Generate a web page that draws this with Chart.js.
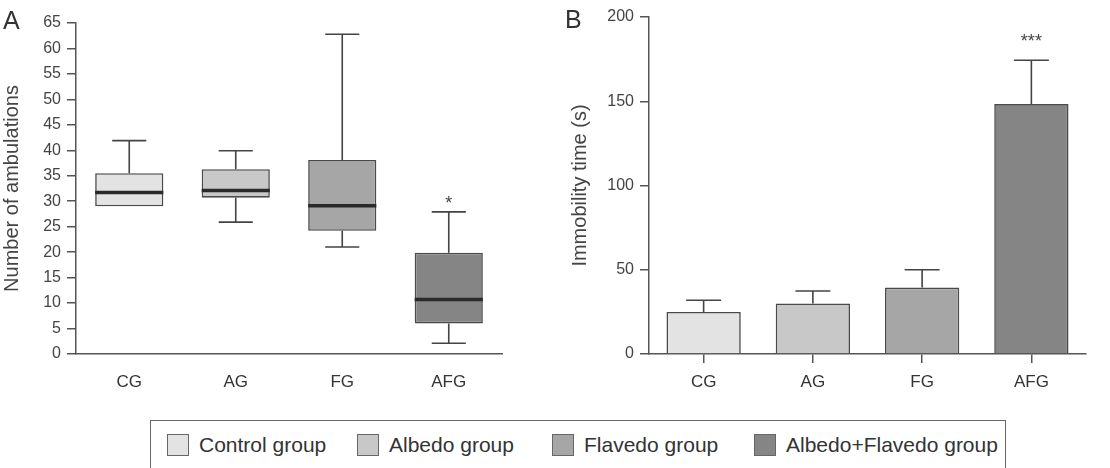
<!DOCTYPE html>
<html>
<head>
<meta charset="utf-8">
<script src="https://cdn.jsdelivr.net/npm/chart.js@4/dist/chart.umd.min.js"></script>
<style>
  body { margin: 0; background: #fff; font-family: "Liberation Sans", Arial, sans-serif; }
  #wrap { position: relative; width: 1110px; height: 468px; overflow: hidden; }
  #canvasA { position: absolute; left: 0; top: 0; }
  #canvasB { position: absolute; left: 560px; top: 0; }
  .panel-label { position: absolute; font-size: 25px; color: #333; line-height: 25px; }
  #legend { position: absolute; left: 150px; top: 420px; width: 856px; height: 50px;
            border: 1.5px solid #666; box-sizing: border-box; }
  .leg-item { position: absolute; top: 12px; height: 24px; }
  .leg-swatch { position: absolute; left: 0; top: 1px; width: 22px; height: 22px;
                border: 1.5px solid #666; box-sizing: border-box; }
  .leg-text { position: absolute; left: 32px; top: 0; font-size: 21px; line-height: 24px;
              color: #333; white-space: nowrap; }
</style>
</head>
<body>
<div id="wrap">
  <canvas id="canvasA" width="560" height="410"></canvas>
  <canvas id="canvasB" width="550" height="410"></canvas>
  <div class="panel-label" style="left:3px; top:8px;">A</div>
  <div class="panel-label" style="left:565px; top:7px;">B</div>
  <div id="legend"></div>
</div>

<script>
// ---- data ----
const categories = ['CG', 'AG', 'FG', 'AFG'];
const groupNames = ['Control group', 'Albedo group', 'Flavedo group', 'Albedo+Flavedo group'];
const groupColors = ['#e3e3e3', '#c8c8c8', '#a6a6a6', '#858585'];

// panel A: number of ambulations (box plot)
const ambMin    = [29.0, 25.9, 21.0, 2.1];
const ambQ1     = [29.0, 30.7, 24.2, 6.0];
const ambMedian = [31.7, 32.1, 29.1, 10.7];
const ambQ3     = [35.5, 36.3, 38.1, 19.9];
const ambMax    = [41.9, 39.9, 62.8, 27.9];
const ambStars  = ['', '', '', '*'];
const ambStarAt = [null, null, null, 30.4];
const ambTicks  = { min: 0, max: 65, step: 5 };

// panel B: immobility time (mean + SEM)
const immMean   = [25.0, 30.0, 39.4, 148.3];
const immError  = [6.9, 7.4, 10.6, 26.0];
const immStars  = ['', '', '', '***'];
const immStarAt = [null, null, null, 188];
const immTicks  = { min: 0, max: 200, step: 50 };

const AXIS_COLOR = '#555';
const TEXT_COLOR = '#444';
const FONT = '"Liberation Sans", Arial, sans-serif';

// ---- legend (html) ----
const legendLefts = [16, 206, 401, 603];
const legend = document.getElementById('legend');
groupNames.forEach((name, i) => {
    const item = document.createElement('div');
    item.className = 'leg-item';
    item.style.left = legendLefts[i] + 'px';
    item.innerHTML = `<div class="leg-swatch" style="background:${groupColors[i]}"></div>` +
                     `<div class="leg-text">${name}</div>`;
    legend.appendChild(item);
});

// ---- plugin: whiskers, medians, error bars, stars ----
const extrasPlugin = {
    id: 'extras',
    afterDatasetsDraw(chart, args, opts) {
        const ctx = chart.ctx;
        const x = chart.scales.x;
        const y = chart.scales.y;
        const band = (x.getPixelForValue(1) - x.getPixelForValue(0));
        const capHalf = band * 0.16;
        const meta = chart.getDatasetMeta(0);
        ctx.save();
        ctx.lineCap = 'butt';
        categories.forEach((c, i) => {
            const cx = x.getPixelForValue(i);
            ctx.strokeStyle = '#444';
            ctx.lineWidth = 1.6;
            if (opts.mode === 'box') {
                // whiskers
                ctx.beginPath();
                ctx.moveTo(cx, y.getPixelForValue(ambQ3[i]));
                ctx.lineTo(cx, y.getPixelForValue(ambMax[i]));
                ctx.moveTo(cx - capHalf, y.getPixelForValue(ambMax[i]));
                ctx.lineTo(cx + capHalf, y.getPixelForValue(ambMax[i]));
                if (ambMin[i] < ambQ1[i]) {
                    ctx.moveTo(cx, y.getPixelForValue(ambQ1[i]));
                    ctx.lineTo(cx, y.getPixelForValue(ambMin[i]));
                    ctx.moveTo(cx - capHalf, y.getPixelForValue(ambMin[i]));
                    ctx.lineTo(cx + capHalf, y.getPixelForValue(ambMin[i]));
                }
                ctx.stroke();
                // median
                const bar = meta.data[i];
                const half = bar.width / 2;
                ctx.strokeStyle = '#2a2a2a';
                ctx.lineWidth = 3.5;
                ctx.beginPath();
                ctx.moveTo(cx - half, y.getPixelForValue(ambMedian[i]));
                ctx.lineTo(cx + half, y.getPixelForValue(ambMedian[i]));
                ctx.stroke();
            } else {
                // upward error bar
                const top = immMean[i] + immError[i];
                ctx.beginPath();
                ctx.moveTo(cx, y.getPixelForValue(immMean[i]));
                ctx.lineTo(cx, y.getPixelForValue(top));
                ctx.moveTo(cx - capHalf, y.getPixelForValue(top));
                ctx.lineTo(cx + capHalf, y.getPixelForValue(top));
                ctx.stroke();
            }
            // significance stars (glyph centre sits ~10px above the baseline)
            const star = opts.stars[i];
            if (star) {
                ctx.fillStyle = '#444';
                ctx.font = '18px ' + FONT;
                ctx.textAlign = 'center';
                ctx.textBaseline = 'alphabetic';
                ctx.fillText(star, cx, y.getPixelForValue(opts.starAt[i]) + 10);
            }
        });
        ctx.restore();
    }
};

function yScale(ticks, title, titlePad, width) {
    return {
        min: ticks.min,
        max: ticks.max,
        ticks: { stepSize: ticks.step, color: TEXT_COLOR, font: { family: FONT, size: 16 }, padding: 6 },
        grid: { display: true, drawOnChartArea: false, drawTicks: true, tickLength: 9,
                color: AXIS_COLOR, lineWidth: 1.5 },
        border: { display: true, color: AXIS_COLOR, width: 1.5 },
        title: { display: true, text: title, color: TEXT_COLOR,
                 font: { family: FONT, size: 20 }, padding: { top: titlePad, bottom: 0 } },
        afterFit(scale) { scale.width = width; }
    };
}

// ---- panel A: box plot built from floating bars ----
new Chart(document.getElementById('canvasA'), {
    type: 'bar',
    data: {
        labels: categories,
        datasets: [{
            data: categories.map((c, i) => [ambQ1[i], ambQ3[i]]),
            backgroundColor: groupColors,
            borderColor: '#4a4a4a',
            borderWidth: 1.6,
            borderSkipped: false,
            barPercentage: 0.64,
            categoryPercentage: 1.0
        }]
    },
    options: {
        responsive: false,
        animation: false,
        layout: { padding: { top: 23, right: 58, bottom: 0, left: 0 } },
        plugins: { legend: { display: false }, tooltip: { enabled: false },
                   extras: { mode: 'box', stars: ambStars, starAt: ambStarAt } },
        scales: {
            x: {
                ticks: { color: '#333', font: { family: FONT, size: 17 }, padding: 18 },
                grid: { display: false, drawTicks: false },
                border: { display: true, color: AXIS_COLOR, width: 1.5 },
                afterFit(scale) { scale.height = 56; }
            },
            y: yScale(ambTicks, 'Number of ambulations', 0, 76)
        }
    },
    plugins: [extrasPlugin]
});

// ---- panel B: bar chart with error bars ----
new Chart(document.getElementById('canvasB'), {
    type: 'bar',
    data: {
        labels: categories,
        datasets: [{
            data: immMean,
            backgroundColor: groupColors,
            borderColor: '#4a4a4a',
            borderWidth: 1.6,
            borderSkipped: 'bottom',
            barPercentage: 0.68,
            categoryPercentage: 1.0
        }]
    },
    options: {
        responsive: false,
        animation: false,
        layout: { padding: { top: 17, right: 24, bottom: 0, left: 0 } },
        plugins: { legend: { display: false }, tooltip: { enabled: false },
                   extras: { mode: 'bar', stars: immStars, starAt: immStarAt } },
        scales: {
            x: {
                ticks: { color: '#333', font: { family: FONT, size: 17 }, padding: 9 },
                grid: { display: true, drawOnChartArea: false, drawTicks: true, tickLength: 9,
                        offset: false, color: AXIS_COLOR, lineWidth: 1.5 },
                border: { display: true, color: AXIS_COLOR, width: 1.5 },
                afterFit(scale) { scale.height = 56; }
            },
            y: yScale(immTicks, 'Immobility time (s)', 8, 89)
        }
    },
    plugins: [extrasPlugin]
});
</script>
</body>
</html>
